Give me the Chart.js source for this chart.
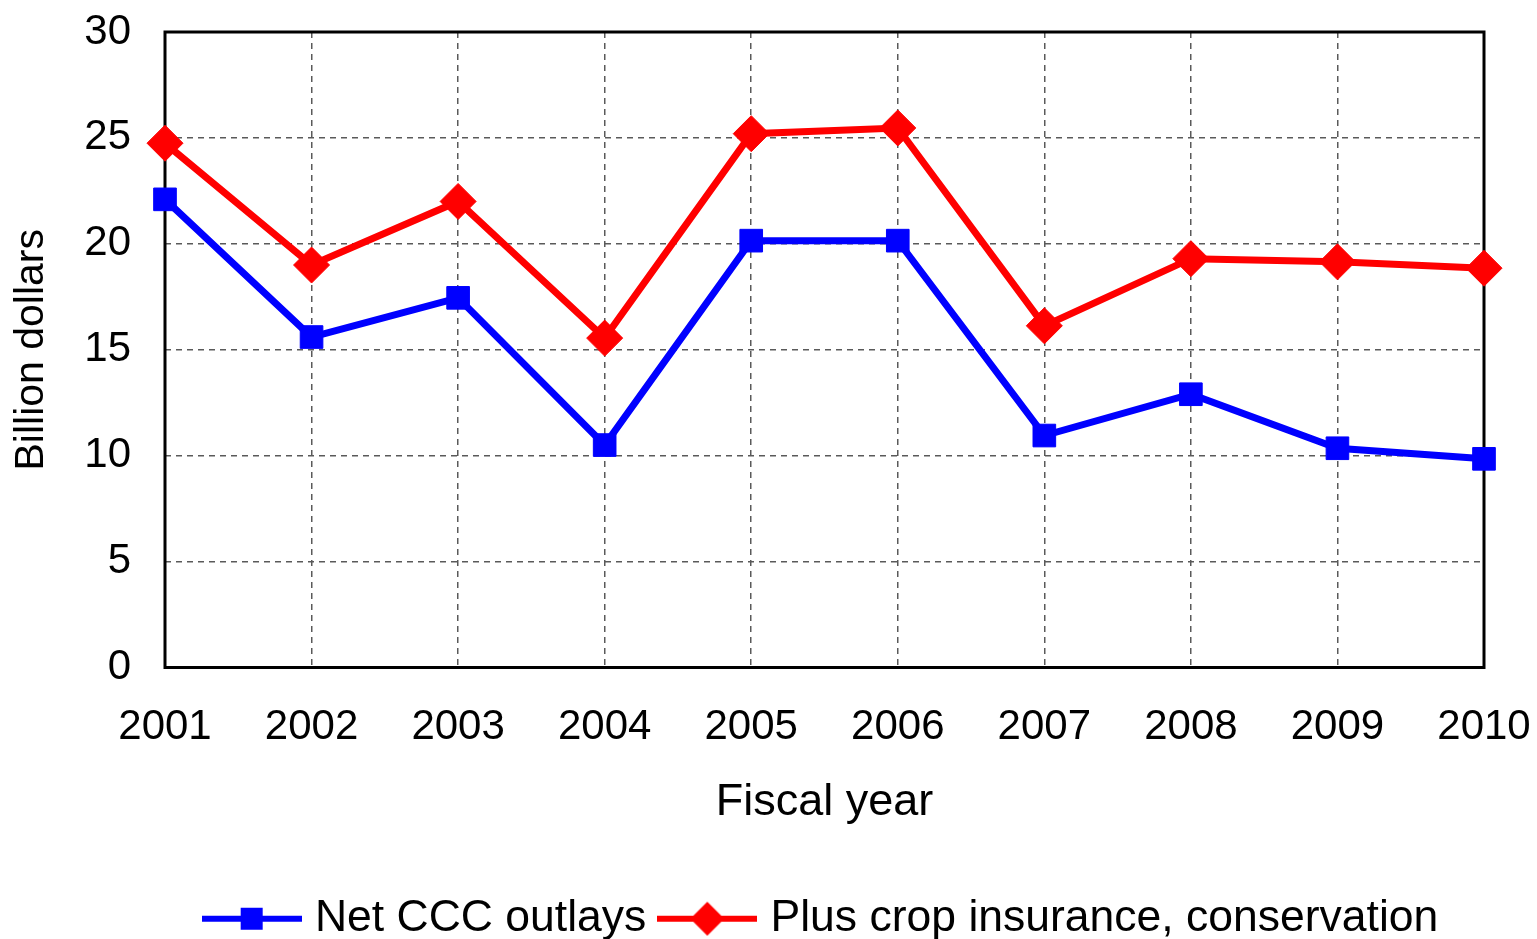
<!DOCTYPE html>
<html>
<head>
<meta charset="utf-8">
<script src="https://cdn.jsdelivr.net/npm/chart.js@4/dist/chart.umd.min.js"></script>
<style>
  body { margin: 0; background: #fff; }
  canvas { display: block; }
</style>
</head>
<body>
<canvas id="outlaysChart" width="1537" height="939"></canvas>
<script>
const years = ['2001', '2002', '2003', '2004', '2005', '2006', '2007', '2008', '2009', '2010'];
const netCCC = [22.1, 15.6, 17.45, 10.5, 20.15, 20.15, 10.95, 12.9, 10.35, 9.85];
const plusCropIns = [24.75, 19.0, 22.0, 15.55, 25.2, 25.47, 16.13, 19.3, 19.15, 18.85];
const yTicks = [0, 5, 10, 15, 20, 25, 30];

const FONT = "'Liberation Sans', Arial, sans-serif";

// little line+marker pictures for the legend
function legendSwatch(color, shape) {
  const c = document.createElement('canvas');
  c.width = 100;
  c.height = 44;
  const g = c.getContext('2d');
  g.strokeStyle = color;
  g.fillStyle = color;
  g.lineWidth = 6;
  g.beginPath();
  g.moveTo(0, 22);
  g.lineTo(100, 22);
  g.stroke();
  g.beginPath();
  if (shape === 'square') {
    g.rect(39, 11, 22, 22);
  } else {
    g.moveTo(50, 5);
    g.lineTo(67, 22);
    g.lineTo(50, 39);
    g.lineTo(33, 22);
    g.closePath();
  }
  g.fill();
  return c;
}
const swatches = [legendSwatch('#0000ff', 'square'), legendSwatch('#ff0000', 'diamond')];

// black box round the plot area
const frame = {
  id: 'frame',
  beforeDatasetsDraw(chart) {
    const {ctx, chartArea: a} = chart;
    ctx.save();
    ctx.strokeStyle = '#000';
    ctx.lineWidth = 3;
    ctx.strokeRect(a.left, a.top, a.right - a.left, a.bottom - a.top);
    ctx.restore();
  }
};

const outlaysChart = new Chart(document.getElementById('outlaysChart'), {
  type: 'line',
  data: {
    labels: years,
    datasets: [{
      label: 'Net CCC outlays',
      data: netCCC,
      borderColor: '#0000ff',
      backgroundColor: '#0000ff',
      borderWidth: 7,
      pointStyle: 'rect',
      pointRadius: 16,
      pointBorderWidth: 1,
      tension: 0,
      clip: false
    }, {
      label: 'Plus crop insurance, conservation',
      data: plusCropIns,
      borderColor: '#ff0000',
      backgroundColor: '#ff0000',
      borderWidth: 7,
      pointStyle: 'rectRot',
      pointRadius: 18,
      pointBorderWidth: 1,
      tension: 0,
      clip: false
    }]
  },
  options: {
    responsive: false,
    animation: false,
    layout: {
      padding: { top: 32, right: 53, bottom: -12, left: 0 }
    },
    scales: {
      x: {
        offset: false,
        grid: {
          color: '#5a5a5a', lineWidth: 1.5, offset: false,
          drawTicks: true, tickLength: 35, tickWidth: 0
        },
        border: { display: false, dash: [6, 5] },
        ticks: {
          color: '#000',
          font: { family: FONT, size: 42 },
          padding: 0,
          maxRotation: 0,
          autoSkip: false
        },
        title: {
          display: true,
          text: 'Fiscal year',
          color: '#000',
          font: { family: FONT, size: 45 },
          padding: { top: 0, bottom: 47 }
        },
        afterFit(scale) { scale.height = 209; }
      },
      y: {
        min: 0,
        max: 30,
        afterBuildTicks(scale) { scale.ticks = yTicks.map(v => ({ value: v })); },
        grid: {
          color: '#5a5a5a', lineWidth: 1.5,
          drawTicks: true, tickLength: 34, tickWidth: 0
        },
        border: { display: false, dash: [6, 5] },
        ticks: {
          color: '#000',
          font: { family: FONT, size: 42 },
          padding: 0
        },
        title: {
          display: true,
          text: 'Billion dollars',
          color: '#000',
          font: { family: FONT, size: 41 },
          padding: { top: 7, bottom: 0 }
        },
        afterFit(scale) { scale.width = 165; }
      }
    },
    plugins: {
      legend: {
        position: 'bottom',
        fullSize: false,
        labels: {
          color: '#000',
          font: { family: FONT, size: 44.5 },
          usePointStyle: true,
          pointStyleWidth: 82,
          padding: 20,
          generateLabels(chart) {
            const items = Chart.defaults.plugins.legend.labels.generateLabels(chart);
            items.forEach((it, i) => { it.pointStyle = swatches[i]; it.rotation = 0; });
            return items;
          }
        }
      },
      tooltip: { enabled: false }
    }
  },
  plugins: [frame]
});
</script>
</body>
</html>
